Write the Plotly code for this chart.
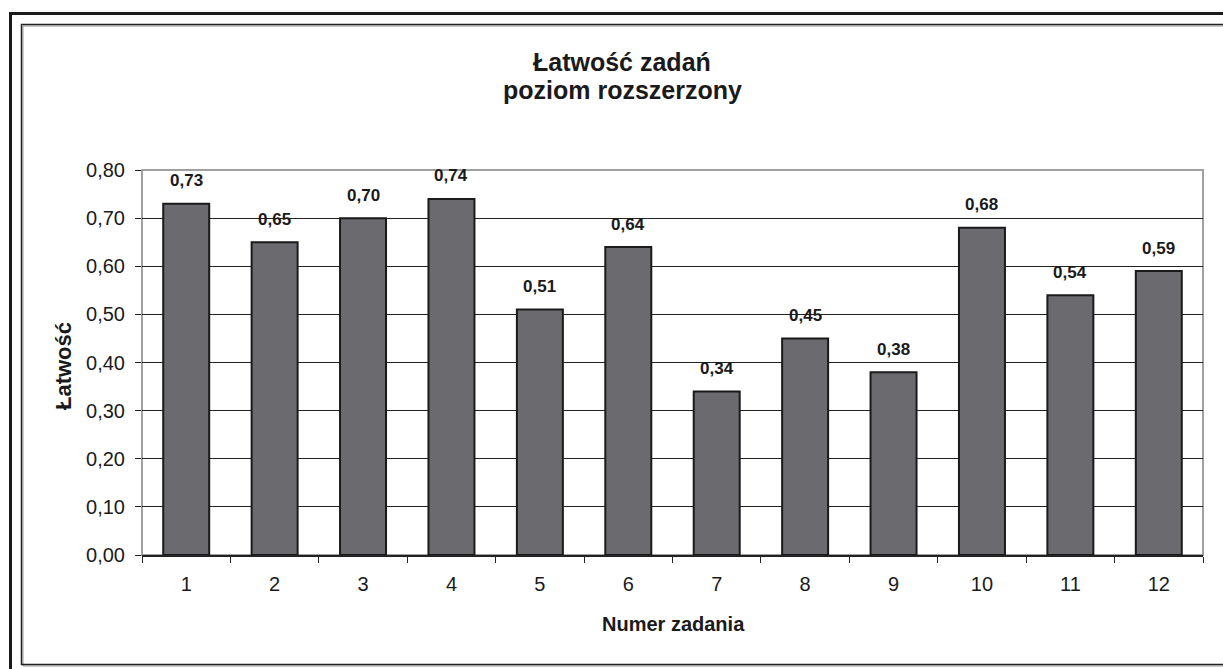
import plotly.graph_objects as go

categories = ["1", "2", "3", "4", "5", "6", "7", "8", "9", "10", "11", "12"]
values = [0.73, 0.65, 0.70, 0.74, 0.51, 0.64, 0.34, 0.45, 0.38, 0.68, 0.54, 0.59]
labels = ["0,73", "0,65", "0,70", "0,74", "0,51", "0,64", "0,34", "0,45", "0,38", "0,68", "0,54", "0,59"]
y_ticks = [0.0, 0.1, 0.2, 0.3, 0.4, 0.5, 0.6, 0.7, 0.8]
y_ticklabels = ["0,00", "0,10", "0,20", "0,30", "0,40", "0,50", "0,60", "0,70", "0,80"]

W, H = 1223, 669
L, R, T, B = 142, 20, 170, 114
PW, PH = W - L - R, H - T - B
FONT = "Liberation Sans, Arial, sans-serif"


def px(x):
    return (x - L) / PW


def py(y):
    return (H - B - y) / PH


fig = go.Figure()
fig.add_trace(go.Bar(
    x=categories, y=values,
    marker=dict(color="#6b6b6f", line=dict(color="#1a1a1a", width=2)),
    width=0.52,
    hoverinfo="skip",
))

annotations = []
for i, (v, t) in enumerate(zip(values, labels)):
    annotations.append(dict(x=i, y=v, xref="x", yref="y", text="<b>" + t + "</b>", showarrow=False,
                            yshift=23, font=dict(family=FONT, size=17, color="#1a1a1a"),
                            xanchor="center", yanchor="middle"))

annotations += [
    dict(x=px(622), y=py(62), xref="paper", yref="paper", text="<b>Łatwość zadań</b>",
         showarrow=False, font=dict(family=FONT, size=25, color="#1a1a1a"), xanchor="center", yanchor="middle"),
    dict(x=px(622), y=py(90), xref="paper", yref="paper", text="<b>poziom rozszerzony</b>",
         showarrow=False, font=dict(family=FONT, size=25, color="#1a1a1a"), xanchor="center", yanchor="middle"),
    dict(x=px(673), y=py(624), xref="paper", yref="paper", text="<b>Numer zadania</b>",
         showarrow=False, font=dict(family=FONT, size=20, color="#1a1a1a"), xanchor="center", yanchor="middle"),
    dict(x=px(63), y=py(366), xref="paper", yref="paper", text="<b>Łatwość</b>", textangle=-90,
         showarrow=False, font=dict(family=FONT, size=22, color="#1a1a1a"), xanchor="center", yanchor="middle"),
]

shapes = [
    # outer thick frame
    dict(type="rect", xref="paper", yref="paper", x0=px(10.5), y0=py(720), x1=px(1260), y1=py(13.5),
         line=dict(color="#1a1a1a", width=3), layer="above"),
    # inner frame shadow
    dict(type="rect", xref="paper", yref="paper", x0=px(23), y0=py(666), x1=px(1260), y1=py(26),
         line=dict(color="#9a9a9a", width=1), layer="above"),
    # inner frame
    dict(type="rect", xref="paper", yref="paper", x0=px(21.5), y0=py(664.5), x1=px(1260), y1=py(24.5),
         line=dict(color="#222", width=1.5), layer="above"),
    # plot area border
    dict(type="rect", xref="paper", yref="paper", x0=0, y0=0, x1=1, y1=1,
         line=dict(color="#a0a0a0", width=2), layer="below"),
]

fig.update_layout(
    width=W, height=H,
    margin=dict(l=L, r=R, t=T, b=B),
    paper_bgcolor="white", plot_bgcolor="white",
    showlegend=False,
    annotations=annotations,
    shapes=shapes,
    font=dict(family=FONT, color="#1a1a1a"),
    xaxis=dict(
        type="category", tickson="boundaries", ticks="outside", ticklen=6, tickcolor="#222",
        tickfont=dict(family=FONT, size=20, color="#1a1a1a"), ticklabelstandoff=10,
        showline=True, linecolor="#222", linewidth=1.5, showgrid=False, zeroline=False,
        range=[-0.5, 11.5],
    ),
    yaxis=dict(
        range=[0, 0.8], tickvals=y_ticks, ticktext=y_ticklabels, ticks="outside", ticklen=6,
        tickcolor="#222", tickfont=dict(family=FONT, size=20, color="#1a1a1a"), ticklabelstandoff=6,
        showgrid=True, gridcolor="#222", gridwidth=1, zeroline=False,
        showline=False,
    ),
)

fig.write_html("out.html", config={"displayModeBar": False},
               post_script="document.body.style.margin='0px';")
